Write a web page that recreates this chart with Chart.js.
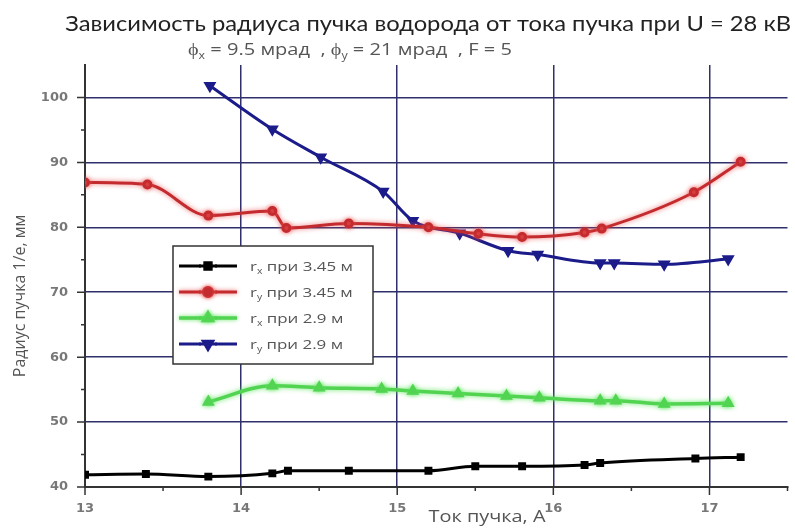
<!DOCTYPE html>
<html>
<head>
<meta charset="utf-8">
<script src="https://cdn.jsdelivr.net/npm/chart.js@4.4.1/dist/chart.umd.min.js"></script>
<style>
  html, body { margin: 0; padding: 0; background: #ffffff; }
  canvas { display: block; }
</style>
</head>
<body>
<canvas id="c" width="795" height="528"></canvas>
<script>
// Beam current, A, and beam radius at 1/e level, mm
const currentRx345 = [13.0, 13.39, 13.79, 14.2, 14.3, 14.69, 15.2, 15.5, 15.8, 16.2, 16.3, 16.91, 17.2];
const radiusRx345  = [41.9, 42.0, 41.6, 42.1, 42.5, 42.5, 42.5, 43.2, 43.2, 43.4, 43.7, 44.4, 44.6];

const currentRy345 = [13.0, 13.4, 13.79, 14.2, 14.29, 14.69, 15.2, 15.52, 15.8, 16.2, 16.31, 16.9, 17.2];
const radiusRy345  = [86.9, 86.6, 81.8, 82.5, 79.9, 80.6, 80.0, 79.0, 78.5, 79.2, 79.8, 85.4, 90.1];

const currentRx29 = [13.79, 14.2, 14.5, 14.9, 15.1, 15.39, 15.7, 15.91, 16.3, 16.4, 16.71, 17.12];
const radiusRx29  = [53.1, 55.6, 55.3, 55.1, 54.8, 54.4, 54.0, 53.75, 53.3, 53.3, 52.8, 52.9];

const currentRy29 = [13.8, 14.2, 14.51, 14.91, 15.1, 15.4, 15.71, 15.9, 16.3, 16.39, 16.71, 17.12];
const radiusRy29  = [101.8, 95.1, 90.8, 85.5, 81.0, 79.1, 76.4, 75.8, 74.5, 74.5, 74.3, 75.1];

// Axis ticks
const xTickValues = [13, 13.5, 14, 14.5, 15, 15.5, 16, 16.5, 17, 17.5];
const yTickValues = [40, 45, 50, 55, 60, 65, 70, 75, 80, 85, 90, 95, 100];

// Texts
const chartTitle = 'Зависимость радиуса пучка водорода от тока пучка при U = 28 кВ';
const subtitleRuns = [
  { t: 'ϕ' }, { t: 'x', sub: true }, { t: ' = 9.5 мрад  , ϕ' }, { t: 'y', sub: true },
  { t: ' = 21 мрад  , F = 5' }
];
const xAxisTitle = 'Ток пучка, А';
const yAxisTitle = 'Радиус пучка 1/е, мм';
const legendRuns = [
  [{ t: 'r' }, { t: 'x', sub: true }, { t: ' при 3.45 м' }],
  [{ t: 'r' }, { t: 'y', sub: true }, { t: ' при 3.45 м' }],
  [{ t: 'r' }, { t: 'x', sub: true }, { t: ' при 2.9 м' }],
  [{ t: 'r' }, { t: 'y', sub: true }, { t: ' при 2.9 м' }]
];

const pairs = (xs, ys) => xs.map((x, i) => ({ x, y: ys[i] }));

const GRID = '#2f2f6c';
const AXIS = '#333333';

// Text runs with subscripts, optionally widened horizontally by sx
function drawRuns(ctx, runs, x, y, size, family, color, sx) {
  ctx.save();
  ctx.translate(x, y);
  ctx.scale(sx || 1, 1);
  let cx = 0;
  ctx.fillStyle = color;
  ctx.textAlign = 'left';
  ctx.textBaseline = 'alphabetic';
  for (const r of runs) {
    const s = r.sub ? size * 0.62 : size;
    ctx.font = `${s}px ${family}`;
    ctx.fillText(r.t, cx, r.sub ? size * 0.22 : 0);
    cx += ctx.measureText(r.t).width;
  }
  ctx.restore();
}

function drawWide(ctx, text, x, y, sx, align, baseline) {
  ctx.save();
  ctx.translate(x, y);
  ctx.scale(sx, 1);
  ctx.textAlign = align;
  ctx.textBaseline = baseline;
  ctx.fillText(text, 0, 0);
  ctx.restore();
}

// Soft halo around selected lines
const lineGlow = {
  id: 'lineGlow',
  beforeDatasetDraw(chart, args) {
    const ds = chart.data.datasets[args.index];
    chart.ctx.save();
    if (ds.glow) {
      chart.ctx.shadowColor = ds.glow;
      chart.ctx.shadowBlur = 5;
    }
  },
  afterDatasetDraw(chart) {
    chart.ctx.restore();
  }
};

// Tick marks: long on whole values, short in between
const tickMarks = {
  id: 'tickMarks',
  afterDraw(chart) {
    const { ctx, scales: { x, y }, chartArea: a } = chart;
    ctx.save();
    ctx.strokeStyle = AXIS;
    ctx.lineWidth = 1.5;
    ctx.beginPath();
    xTickValues.forEach(v => {
      const px = x.getPixelForValue(v);
      const len = Number.isInteger(v) ? 8 : 4;
      ctx.moveTo(px, a.bottom);
      ctx.lineTo(px, a.bottom + len);
    });
    yTickValues.forEach(v => {
      const py = y.getPixelForValue(v);
      const len = v % 10 === 0 ? 8 : 4;
      ctx.moveTo(a.left - len, py);
      ctx.lineTo(a.left, py);
    });
    ctx.stroke();
    ctx.restore();
  }
};

// Titles, axis captions and the boxed legend
const annotations = {
  id: 'annotations',
  afterDraw(chart) {
    const ctx = chart.ctx;
    ctx.save();

    ctx.fillStyle = '#222';
    ctx.font = '21px Lato';
    drawWide(ctx, chartTitle, 791, 31, 1.13, 'right', 'alphabetic');

    drawRuns(ctx, subtitleRuns, 188, 55, 17, '"Open Sans"', '#555', 1.18);

    ctx.fillStyle = '#555';
    ctx.font = '17px "Open Sans"';
    drawWide(ctx, xAxisTitle, 487, 517, 1.17, 'center', 'middle');

    ctx.save();
    ctx.translate(20, 296);
    ctx.rotate(-Math.PI / 2);
    ctx.font = '16px "Open Sans"';
    ctx.textAlign = 'center';
    ctx.textBaseline = 'middle';
    ctx.fillText(yAxisTitle, 0, 0);
    ctx.restore();

    // legend box
    const bx = 173, by = 246, bw = 200, bh = 118;
    ctx.fillStyle = '#ffffff';
    ctx.fillRect(bx, by, bw, bh);
    ctx.strokeStyle = AXIS;
    ctx.lineWidth = 1.5;
    ctx.strokeRect(bx, by, bw, bh);

    chart.data.datasets.forEach((ds, i) => {
      const ry = 266 + i * 26;
      ctx.save();
      if (ds.glow) { ctx.shadowColor = ds.glow; ctx.shadowBlur = 4; }
      ctx.strokeStyle = ds.borderColor;
      ctx.lineWidth = ds.borderWidth;
      ctx.beginPath();
      ctx.moveTo(179, ry);
      ctx.lineTo(201, ry);
      ctx.moveTo(215, ry);
      ctx.lineTo(237, ry);
      ctx.stroke();
      ctx.beginPath();
      ctx.moveTo(199, ry);
      ctx.lineTo(217, ry);
      ctx.stroke();
      Chart.helpers.drawPoint(ctx, {
        pointStyle: ds.pointStyle,
        radius: ds.pointRadius + 1,
        rotation: ds.rotation || 0,
        borderWidth: 1
      }, 208, ry);
      ctx.fillStyle = ds.pointBackgroundColor;
      ctx.fill();
      ctx.restore();
      drawRuns(ctx, legendRuns[i], 250, ry + 5, 13, '"Open Sans"', '#555', 1.3);
    });

    ctx.restore();
  }
};

new Chart(document.getElementById('c'), {
  type: 'line',
  data: {
    datasets: [
      {
        label: 'rx при 3.45 м',
        data: pairs(currentRx345, radiusRx345),
        borderColor: '#000000', pointBackgroundColor: '#000000', pointBorderColor: '#000000',
        borderWidth: 3, pointStyle: 'rect', pointRadius: 3.5
      },
      {
        label: 'ry при 3.45 м',
        data: pairs(currentRy345, radiusRy345),
        borderColor: '#c42b2f', pointBackgroundColor: '#c42b2f', pointBorderColor: '#c42b2f',
        borderWidth: 3, pointStyle: 'circle', pointRadius: 3.5, glow: 'rgba(235,80,80,0.8)'
      },
      {
        label: 'rx при 2.9 м',
        data: pairs(currentRx29, radiusRx29),
        borderColor: '#52d452', pointBackgroundColor: '#52d452', pointBorderColor: '#52d452',
        borderWidth: 3.5, pointStyle: 'triangle', pointRadius: 4, glow: 'rgba(90,230,90,0.9)'
      },
      {
        label: 'ry при 2.9 м',
        data: pairs(currentRy29, radiusRy29),
        borderColor: '#1b1b8a', pointBackgroundColor: '#1b1b8a', pointBorderColor: '#1b1b8a',
        borderWidth: 3, pointStyle: 'triangle', rotation: 180, pointRadius: 4.5
      }
    ]
  },
  options: {
    responsive: false,
    animation: false,
    layout: { padding: { left: 0, right: 5, top: 65, bottom: 0 } },
    elements: { line: { cubicInterpolationMode: 'monotone' } },
    plugins: {
      legend: { display: false },
      title: { display: false },
      tooltip: { enabled: false }
    },
    scales: {
      x: {
        type: 'linear',
        min: 13, max: 17.5,
        afterFit(s) { s.height = 41; s.paddingLeft = 0; s.paddingRight = 0; },
        afterBuildTicks(s) { s.ticks = xTickValues.map(v => ({ value: v })); },
        border: { color: AXIS, width: 2 },
        grid: {
          drawTicks: false,
          lineWidth: 1.5,
          color: c => (c.tick && Number.isInteger(c.tick.value) && c.tick.value !== 13) ? GRID : 'rgba(0,0,0,0)'
        },
        ticks: {
          autoSkip: false,
          maxRotation: 0,
          padding: 14,
          color: '#777',
          font: { family: '"DejaVu Sans"', size: 13, weight: 'bold' },
          callback: v => Number.isInteger(v) ? String(v) : ''
        }
      },
      y: {
        type: 'linear',
        min: 40, max: 105,
        afterFit(s) { s.width = 85; s.paddingTop = 0; s.paddingBottom = 0; },
        afterBuildTicks(s) { s.ticks = yTickValues.map(v => ({ value: v })); },
        border: { color: AXIS, width: 2 },
        grid: {
          drawTicks: false,
          lineWidth: 1.5,
          color: c => (c.tick && c.tick.value % 10 === 0 && c.tick.value !== 40) ? GRID : 'rgba(0,0,0,0)'
        },
        ticks: {
          autoSkip: false,
          padding: 17,
          color: '#777',
          font: { family: '"DejaVu Sans"', size: 13, weight: 'bold' },
          callback: v => v % 10 === 0 ? String(v) : ''
        }
      }
    }
  },
  plugins: [lineGlow, tickMarks, annotations]
});
</script>
</body>
</html>
